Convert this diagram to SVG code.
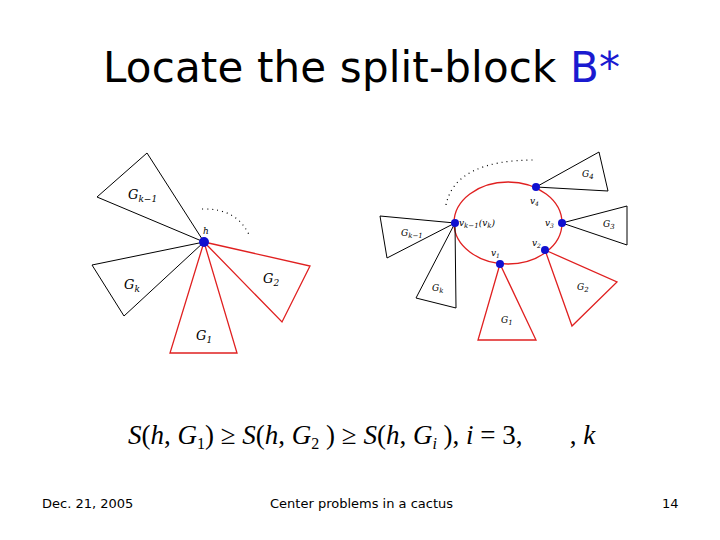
<svg xmlns="http://www.w3.org/2000/svg" width="720" height="540" viewBox="0 0 720 540">
<style>
.k{fill:none;stroke:#000;stroke-width:1}
.r{fill:none;stroke:#e02020;stroke-width:1.3}
.d{fill:none;stroke:#000;stroke-width:1.2;stroke-dasharray:1 4}
.n{fill:#1010d0}
.l{font-family:"DejaVu Serif",serif;font-style:italic;font-size:13px;fill:#000}
.s{font-family:"DejaVu Serif",serif;font-style:italic;font-size:9px;fill:#000}
.f{font-family:"DejaVu Sans",sans-serif;font-size:13px;fill:#000}
</style>
<rect width="720" height="540" fill="#fff"/>
<text x="103" y="82" font-family="DejaVu Sans,sans-serif" font-size="42" textLength="517">Locate the split-block <tspan fill="#1a1ad0">B*</tspan></text>
<g id="connectors">
<polygon class="k" points="204,242 147,153 97,197"/>
<polygon class="k" points="204,242 92,265 124,316"/>
<polygon class="r" points="204,242 170,353 237,353"/>
<polygon class="r" points="204,242 310,266 282,322"/>
<path class="d" d="M202,209 Q238,208 250,237"/>
<ellipse class="r" cx="508" cy="223" rx="54" ry="41" stroke-width="1"/>
<polygon class="k" points="536,187 599,152 608,191"/>
<polygon class="k" points="562,223 627,206 627,245"/>
<polygon class="k" points="455,223 380,216 387,258"/>
<polygon class="k" points="455,223 416,298 456,308"/>
<polygon class="r" points="500,264 478,340 536,340"/>
<polygon class="r" points="545,250 617,282 572,326"/>
<path class="d" d="M446,205 Q455,160 535,160"/>
</g>
<g id="h"><circle class="n" cx="204" cy="242" r="5"/><text class="s" x="203" y="234">h</text></g>
<g id="v"><circle class="n" cx="455" cy="223" r="4"/><circle class="n" cx="536" cy="187" r="4"/><circle class="n" cx="562" cy="223" r="4"/><circle class="n" cx="545" cy="250" r="4"/><circle class="n" cx="500" cy="264" r="4"/>
<text class="s" x="459" y="226">v<tspan font-size="7" dy="2">k−1</tspan><tspan dy="-2">(v</tspan><tspan font-size="7" dy="2">k</tspan><tspan dy="-2">)</tspan></text>
<text class="s" x="530" y="204">v<tspan font-size="6" dy="2">4</tspan></text>
<text class="s" x="545" y="226">v<tspan font-size="6" dy="2">3</tspan></text>
<text class="s" x="532" y="246">v<tspan font-size="6" dy="2">2</tspan></text>
<text class="s" x="491" y="256">v<tspan font-size="6" dy="2">1</tspan></text></g>
<g id="labels">
<text class="l" x="128" y="199">G<tspan font-size="9" dy="3">k−1</tspan></text>
<text class="l" x="124" y="289">G<tspan font-size="9" dy="3">k</tspan></text>
<text class="l" x="263" y="283">G<tspan font-size="9" dy="3">2</tspan></text>
<text class="l" x="196" y="340">G<tspan font-size="9" dy="3">1</tspan></text>
<text class="s" x="401" y="236">G<tspan font-size="7" dy="2">k−1</tspan></text>
<text class="s" x="432" y="291">G<tspan font-size="7" dy="2">k</tspan></text>
<text class="s" x="501" y="323">G<tspan font-size="7" dy="2">1</tspan></text>
<text class="s" x="577" y="290">G<tspan font-size="7" dy="2">2</tspan></text>
<text class="s" x="603" y="227">G<tspan font-size="7" dy="2">3</tspan></text>
<text class="s" x="582" y="177">G<tspan font-size="7" dy="2">4</tspan></text>
</g>
<text x="128" y="444" font-family="Liberation Serif,serif" font-size="27" xml:space="preserve"><tspan font-style="italic">S</tspan>(<tspan font-style="italic">h</tspan>, <tspan font-style="italic">G</tspan><tspan font-size="16" dy="5">1</tspan><tspan dy="-5">) ≥ </tspan><tspan font-style="italic">S</tspan>(<tspan font-style="italic">h</tspan>, <tspan font-style="italic">G</tspan><tspan font-size="16" dy="5">2</tspan><tspan dy="-5"> ) ≥ </tspan><tspan font-style="italic">S</tspan>(<tspan font-style="italic">h</tspan>, <tspan font-style="italic">G</tspan><tspan font-size="16" font-style="italic" dy="5">i</tspan><tspan dy="-5"> ), </tspan><tspan font-style="italic">i</tspan> = 3,       , <tspan font-style="italic">k</tspan></text>
<text class="f" x="42" y="508">Dec. 21, 2005</text>
<text class="f" x="270" y="508">Center problems in a cactus</text>
<text class="f" x="662" y="508">14</text>
</svg>
